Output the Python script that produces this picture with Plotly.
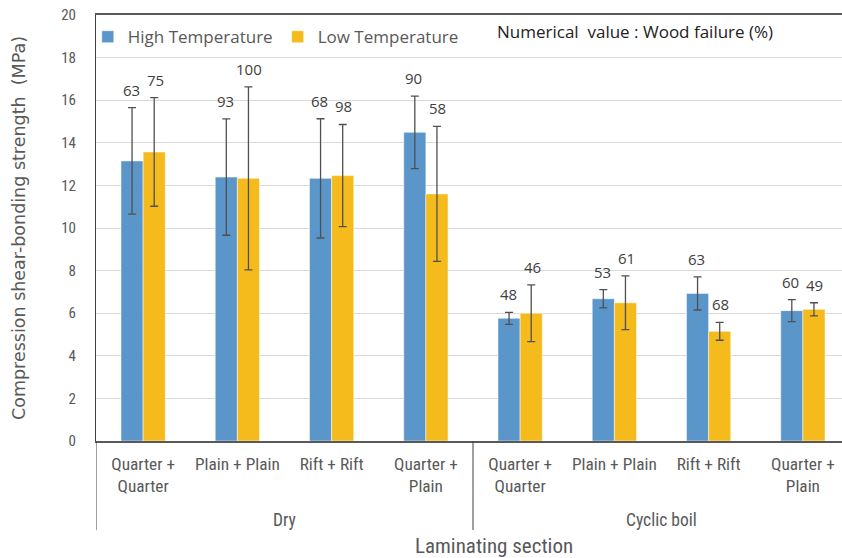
import plotly.graph_objects as go

# ---- data ----
sections = ["Quarter +<br>Quarter", "Plain + Plain", "Rift + Rift", "Quarter +<br>Plain",
            "Quarter +<br>Quarter", "Plain + Plain", "Rift + Rift", "Quarter +<br>Plain"]
conditions = ["Dry", "Cyclic boil"]
high_temp = [13.15, 12.39, 12.33, 14.49, 5.76, 6.68, 6.93, 6.12]
high_err = [2.50, 2.73, 2.80, 1.70, 0.28, 0.43, 0.78, 0.52]
low_temp = [13.57, 12.33, 12.46, 11.60, 6.00, 6.49, 5.15, 6.18]
low_err = [2.55, 4.30, 2.40, 3.17, 1.33, 1.26, 0.42, 0.31]
wf_high = [63, 93, 68, 90, 48, 53, 63, 60]
wf_low = [75, 100, 98, 58, 46, 61, 68, 49]
y_ticks = [0, 2, 4, 6, 8, 10, 12, 14, 16, 18, 20]

BLUE = "#5B96CB"
YELLOW = "#F5BB1D"
GRAY = "#595959"
NARROW = "Liberation Sans Narrow, Roboto Condensed, Arial Narrow, sans-serif"
MAIN = "Open Sans, Noto Sans, sans-serif"
WIDE = "DejaVu Sans, Open Sans, sans-serif"

xs = list(range(len(sections)))

fig = go.Figure()
fig.add_trace(go.Bar(
    x=xs, y=high_temp, name="High Temperature", marker_color=BLUE,
    marker_line=dict(color="rgba(255,255,255,0.5)", width=1),
    error_y=dict(type="data", array=high_err, color="#505050", thickness=1.3, width=4),
))
fig.add_trace(go.Bar(
    x=xs, y=low_temp, name="Low Temperature", marker_color=YELLOW,
    marker_line=dict(color="rgba(255,255,255,0.5)", width=1),
    error_y=dict(type="data", array=low_err, color="#505050", thickness=1.3, width=4),
))

annotations = []
for i in xs:
    annotations.append(dict(x=i, y=high_temp[i] + high_err[i], xref="x", yref="y",
                            text=str(wf_high[i]), showarrow=False, xshift=-12, yshift=18,
                            font=dict(family=MAIN, size=15, color="#404040")))
    annotations.append(dict(x=i, y=low_temp[i] + low_err[i], xref="x", yref="y",
                            text=str(wf_low[i]), showarrow=False, xshift=12, yshift=18,
                            font=dict(family=MAIN, size=15, color="#404040")))

# group labels
for gi, cond in enumerate(conditions):
    annotations.append(dict(x=gi * 4 + 1.5, y=-0.185, xref="x", yref="paper",
                            text=cond, showarrow=False, yanchor="middle",
                            font=dict(family=NARROW, size=17.5, color=GRAY)))
annotations.append(dict(x=0.534, y=-0.247, xref="paper", yref="paper",
                        text="Laminating section", showarrow=False, yanchor="middle",
                        font=dict(family=NARROW, size=21, color=GRAY)))
annotations.append(dict(x=0.5355, y=0.962, xref="paper", yref="paper", xanchor="left",
                        text="Numerical  value : Wood failure (%)", showarrow=False,
                        yanchor="middle", font=dict(family=MAIN, size=17, color="#222222")))

shapes = []
for xv in [-0.5, 3.5]:
    shapes.append(dict(type="line", xref="x", yref="paper", x0=xv, x1=xv, y0=0, y1=-0.209,
                       line=dict(color="#404040", width=1)))

fig.update_layout(
    width=842, height=558,
    margin=dict(l=96, r=0, t=15, b=117),
    paper_bgcolor="white", plot_bgcolor="white",
    barmode="group", bargap=0.53, bargroupgap=0,
    showlegend=True,
    legend=dict(orientation="h", x=-0.011, y=0.948, xanchor="left", yanchor="middle",
                font=dict(family=MAIN, size=17, color=GRAY), bgcolor="rgba(0,0,0,0)",
                itemwidth=30),
    annotations=annotations, shapes=shapes,
    xaxis=dict(range=[-0.5, 7.415], tickmode="array", tickvals=xs, ticktext=sections,
               showgrid=False, showline=True, linecolor=GRAY, linewidth=2, mirror=True,
               ticks="", zeroline=False, automargin=False, ticklabelstandoff=6,
               tickfont=dict(family=NARROW, size=17.3, color=GRAY)),
    yaxis=dict(range=[0, 20], tickvals=y_ticks, showgrid=True, gridcolor="#D9D9D9",
               gridwidth=1, showline=True, linecolor="#404040", linewidth=1, zeroline=False,
               ticks="", ticklabelstandoff=16, automargin=False, ticklabeloverflow="allow",
               tickfont=dict(family=NARROW, size=15, color=GRAY),
               title=dict(text="Compression shear-bonding strength  (MPa)", standoff=31,
                          font=dict(family=WIDE, size=17.5, color=GRAY))),
)

# remove the default 8px page margin so the 842x558 figure fills the window exactly
fig.write_html("out.html",
               config={"displayModeBar": False},
               post_script="document.body.style.margin='0';document.body.style.overflow='hidden';")
